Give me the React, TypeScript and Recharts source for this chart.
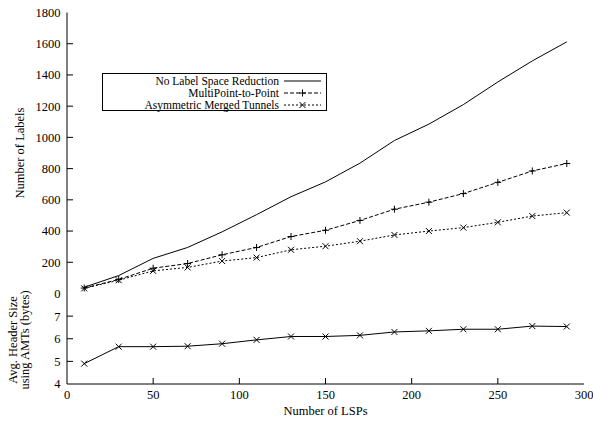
import { Legend, Line, LineChart, XAxis, YAxis } from 'recharts'

const lspCounts = [10, 30, 50, 70, 90, 110, 130, 150, 170, 190, 210, 230, 250, 270, 290]
const noReduction = [40, 115, 225, 295, 395, 505, 620, 715, 835, 980, 1085, 1210, 1355, 1490, 1612]
const multiPoint = [35, 90, 162, 192, 248, 295, 365, 405, 468, 540, 585, 640, 712, 785, 833]
const asymmetric = [33, 85, 145, 167, 208, 230, 280, 303, 335, 375, 400, 422, 456, 496, 518]
const headerSize = [4.9, 5.65, 5.65, 5.67, 5.78, 5.95, 6.1, 6.1, 6.15, 6.3, 6.35, 6.42, 6.42, 6.56, 6.54]

const xTicks = [0, 50, 100, 150, 200, 250, 300]
const labelTicks = [0, 200, 400, 600, 800, 1000, 1200, 1400, 1600, 1800]
const headerTicks = [4, 5, 6, 7, 8]

const FONT = "'Liberation Serif', 'DejaVu Serif', serif"
const FS = 12.5
const LEFT = 67
const RIGHT = 584
const TOP = 12.5
const MID = 293.5
const BOTTOM = 384
const TICK = 6

const labelData = lspCounts.map((x, i) => ({
  x,
  none: noReduction[i],
  mp2p: multiPoint[i],
  amt: asymmetric[i],
}))
const headerData = lspCounts.map((x, i) => ({ x, size: headerSize[i] }))

const legendOrder = ['none', 'mp2p', 'amt']
const legendItems: Record<string, { dash?: string; mark?: 'plus' | 'cross' }> = {
  none: {},
  mp2p: { dash: '4 2', mark: 'plus' },
  amt: { dash: '2 2', mark: 'cross' },
}

function Plus({ cx, cy }: { cx: number; cy: number }) {
  return <path d={`M${cx - 3.5},${cy}H${cx + 3.5}M${cx},${cy - 3.5}V${cy + 3.5}`} stroke="#000" fill="none" />
}

function Cross({ cx, cy }: { cx: number; cy: number }) {
  return <path d={`M${cx - 3},${cy - 3}L${cx + 3},${cy + 3}M${cx - 3},${cy + 3}L${cx + 3},${cy - 3}`} stroke="#000" fill="none" />
}

// gnuplot-style inward ticks on horizontal edges
function xTick(y0: number, dir: number, withLabel = false) {
  return (p: any) => {
    const v = p.payload.value
    const c = p.payload.coordinate
    const edge = v === 0 || v === 300
    return (
      <g key={`xt-${y0}-${v}`}>
        {!edge && <line x1={c} x2={c} y1={y0} y2={y0 + dir * TICK} stroke="#000" />}
        {withLabel && (
          <text x={c} y={y0 + 11} dy="0.35em" textAnchor="middle" style={{ fontFamily: FONT, fontSize: FS }} fill="#000">
            {v}
          </text>
        )}
      </g>
    )
  }
}

function yTick(x0: number, dir: number, lo: number, hi: number, labelled: boolean) {
  return (p: any) => {
    const v = p.payload.value
    const c = p.payload.coordinate
    const edge = v === lo || v === hi
    return (
      <g key={`yt-${x0}-${v}`}>
        {!edge && <line x1={x0} x2={x0 + dir * TICK} y1={c} y2={c} stroke="#000" />}
        {labelled && !(lo === 4 && v === hi) && (
          <text x={60.5} y={c} dy="0.35em" textAnchor="end" style={{ fontFamily: FONT, fontSize: FS }} fill="#000">
            {v}
          </text>
        )}
      </g>
    )
  }
}

function LegendBox({ payload }: any) {
  const rows = [...(payload ?? [])].sort(
    (a: any, b: any) => legendOrder.indexOf(a.dataKey) - legendOrder.indexOf(b.dataKey),
  )
  return (
    <div
      style={{
        width: 225,
        height: 38,
        border: '1px solid #000',
        background: '#fff',
        fontFamily: FONT,
        fontSize: 11.5,
        lineHeight: '12px',
        paddingTop: 0.5,
        boxSizing: 'border-box',
      }}
    >
      {rows.map((e: any) => {
        const it = legendItems[e.dataKey] ?? {}
        return (
          <div key={e.dataKey} style={{ display: 'flex', alignItems: 'center', height: 12 }}>
            <span style={{ width: 176, textAlign: 'right', whiteSpace: 'nowrap' }}>{e.value}</span>
            <svg width={42} height={12} style={{ marginLeft: 4 }}>
              <line x1={1} x2={38} y1={6} y2={6} stroke="#000" strokeDasharray={it.dash} />
              {it.mark === 'plus' && <Plus cx={19.5} cy={6} />}
              {it.mark === 'cross' && <Cross cx={19.5} cy={6} />}
            </svg>
          </div>
        )
      })}
    </div>
  )
}

const axisLine = { stroke: '#000', strokeWidth: 1 }

export default function App() {
  return (
    <div style={{ position: 'absolute', left: 0, top: 0, width: 593, height: 423, background: '#fff', fontFamily: FONT }}>
      <div style={{ position: 'absolute', left: 0, top: 0 }}>
        <LineChart width={593} height={MID + 8} data={labelData} margin={{ top: TOP, right: 9, left: 0, bottom: 8 }}>
          <XAxis xAxisId="b" dataKey="x" type="number" domain={[0, 300]} ticks={xTicks} interval={0} height={0}
            axisLine={axisLine} tickLine={false} tick={xTick(MID, -1)} />
          <XAxis xAxisId="t" orientation="top" dataKey="x" type="number" domain={[0, 300]} ticks={xTicks} interval={0}
            height={0} axisLine={axisLine} tickLine={false} tick={xTick(TOP, 1)} />
          <YAxis yAxisId="l" type="number" domain={[0, 1800]} ticks={labelTicks} interval={0} width={LEFT}
            axisLine={axisLine} tickLine={false} tick={yTick(LEFT, 1, 0, 1800, true)} />
          <YAxis yAxisId="r" orientation="right" type="number" domain={[0, 1800]} ticks={labelTicks} interval={0}
            width={0} axisLine={axisLine} tickLine={false} tick={yTick(RIGHT, -1, 0, 1800, false)} />
          <Legend layout="horizontal" verticalAlign="middle" align="center" content={LegendBox}
            wrapperStyle={{ position: 'absolute', left: 102, top: 73, width: 225, height: 38 }} />
          <Line xAxisId="b" yAxisId="l" dataKey="none" name="No Label Space Reduction" stroke="#000"
            strokeWidth={1} dot={false} isAnimationActive={false} />
          <Line xAxisId="b" yAxisId="l" dataKey="mp2p" name="MultiPoint-to-Point" stroke="#000" strokeWidth={1}
            strokeDasharray="4 2" isAnimationActive={false}
            dot={(p: any) => <Plus key={`p${p.index}`} cx={p.cx} cy={p.cy} />} />
          <Line xAxisId="b" yAxisId="l" dataKey="amt" name="Asymmetric Merged Tunnels" stroke="#000" strokeWidth={1}
            strokeDasharray="2 2" isAnimationActive={false}
            dot={(p: any) => <Cross key={`c${p.index}`} cx={p.cx} cy={p.cy} />} />
        </LineChart>
      </div>

      <div style={{ position: 'absolute', left: 0, top: 0 }}>
        <LineChart width={593} height={423} data={headerData} margin={{ top: MID, right: 9, left: 0, bottom: 0 }}>
          <XAxis xAxisId="b" dataKey="x" type="number" domain={[0, 300]} ticks={xTicks} interval={0}
            height={423 - BOTTOM} axisLine={axisLine} tickLine={false} tick={xTick(BOTTOM, -1, true)} />
          <XAxis xAxisId="t" orientation="top" dataKey="x" type="number" domain={[0, 300]} ticks={xTicks} interval={0}
            height={0} axisLine={axisLine} tickLine={false} tick={xTick(MID, 1)} />
          <YAxis yAxisId="l" type="number" domain={[4, 8]} ticks={headerTicks} interval={0} width={LEFT}
            axisLine={axisLine} tickLine={false} tick={yTick(LEFT, 1, 4, 8, true)} />
          <YAxis yAxisId="r" orientation="right" type="number" domain={[4, 8]} ticks={headerTicks} interval={0}
            width={0} axisLine={axisLine} tickLine={false} tick={yTick(RIGHT, -1, 4, 8, false)} />
          <Line xAxisId="b" yAxisId="l" dataKey="size" stroke="#000" strokeWidth={1} isAnimationActive={false}
            dot={(p: any) => <Cross key={`h${p.index}`} cx={p.cx} cy={p.cy} />} />
        </LineChart>
      </div>

      <div
        style={{
          position: 'absolute', left: 20 - 100, top: 153 - 8, width: 200, height: 16, lineHeight: '16px',
          textAlign: 'center', transform: 'rotate(-90deg)', fontFamily: FONT, fontSize: FS, whiteSpace: 'nowrap',
        }}
      >
        Number of Labels
      </div>
      <div
        style={{
          position: 'absolute', left: 19 - 60, top: 340 - 12, width: 120, height: 24, lineHeight: '12px',
          textAlign: 'center', transform: 'rotate(-90deg)', fontFamily: FONT, fontSize: FS, whiteSpace: 'nowrap',
        }}
      >
        Avg. Header Size
        <br />
        using AMTs (bytes)
      </div>
      <div
        style={{
          position: 'absolute', left: 325.5 - 100, top: 411 - 8, width: 200, height: 16, lineHeight: '16px',
          textAlign: 'center', fontFamily: FONT, fontSize: FS,
        }}
      >
        Number of LSPs
      </div>
    </div>
  )
}
